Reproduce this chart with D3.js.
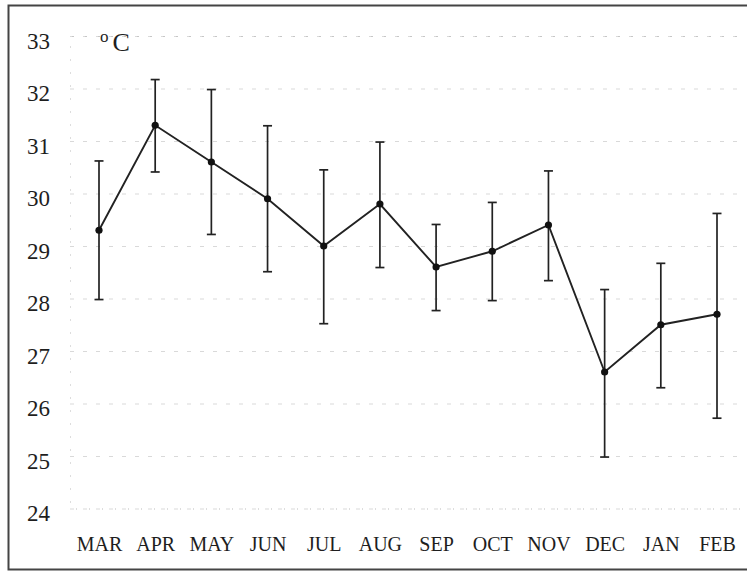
<!DOCTYPE html>
<html>
<head>
<meta charset="utf-8">
<script src="https://cdn.jsdelivr.net/npm/d3@7"></script>
<style>
  body { margin: 0; background: #fff; }
</style>
</head>
<body>
<div id="chart"></div>
<script>
// monthly temperature, mean with error bars
var months = ['MAR', 'APR', 'MAY', 'JUN', 'JUL', 'AUG', 'SEP', 'OCT', 'NOV', 'DEC', 'JAN', 'FEB'];
var meanTemp = [29.3, 31.3, 30.6, 29.9, 29.0, 29.8, 28.6, 28.9, 29.4, 26.6, 27.5, 27.7];
var upperTemp = [30.62, 32.17, 31.98, 31.29, 30.45, 30.98, 29.41, 29.83, 30.43, 28.17, 28.67, 29.62];
var lowerTemp = [27.98, 30.41, 29.22, 28.51, 27.52, 28.59, 27.77, 27.96, 28.34, 24.98, 26.3, 25.72];
var yTicks = [24, 25, 26, 27, 28, 29, 30, 31, 32, 33];

var width = 747,
    height = 571;
var serif = '"Liberation Serif", "Times New Roman", serif';

var svg = d3.select('#chart').append('svg')
    .attr('width', width)
    .attr('height', height)
    .attr('font-family', serif);

var data = months.map(function(m, i) {
    return { month: m, mean: meanTemp[i], hi: upperTemp[i], lo: lowerTemp[i] };
});

var xScale = d3.scalePoint()
    .domain(months)
    .range([99, 717]);

var yScale = d3.scaleLinear()
    .domain([24, 33])
    .range([508.5, 36]);

// frame (no right side, like the scan)
svg.append('path')
    .attr('d', 'M747,5.5 H8.5 V569.5 H747')
    .attr('fill', 'none')
    .attr('stroke', '#444')
    .attr('stroke-width', 2);

// y axis + dotted grid
var yAxis = d3.axisLeft(yScale)
    .tickValues(yTicks)
    .tickSize(-(740 - 70))
    .tickPadding(20)
    .tickFormat(d3.format('d'));

var gy = svg.append('g')
    .attr('transform', 'translate(70,0)')
    .call(yAxis)
    .attr('font-family', serif);

gy.select('.domain')
    .attr('stroke', '#bbb')
    .attr('stroke-width', 1)
    .attr('stroke-dasharray', '1,12');

gy.selectAll('.tick line')
    .attr('stroke', '#aaa')
    .attr('stroke-opacity', 0.45)
    .attr('stroke-dasharray', '4,9');

gy.selectAll('.tick text')
    .attr('font-size', '23px')
    .attr('fill', '#1e1e1e')
    .attr('transform', 'translate(0,5)');

// month labels
var xAxis = d3.axisBottom(xScale)
    .tickSize(0)
    .tickPadding(0);

var gx = svg.append('g')
    .attr('transform', 'translate(0,537)')
    .call(xAxis)
    .attr('font-family', serif);

gx.select('.domain').remove();
gx.selectAll('.tick text')
    .attr('font-size', '20px')
    .attr('fill', '#1e1e1e');

// unit label
var unit = svg.append('text')
    .attr('x', 100)
    .attr('y', 51)
    .attr('font-size', '26px')
    .attr('fill', '#1e1e1e');
unit.append('tspan')
    .attr('font-size', '17px')
    .attr('dy', -9)
    .text('o');
unit.append('tspan')
    .attr('dy', 9)
    .attr('dx', 4)
    .text('C');

// error bars
var bars = svg.selectAll('.errbar')
    .data(data)
    .enter().append('g')
    .attr('class', 'errbar')
    .attr('stroke', '#222')
    .attr('stroke-width', 1.7);

bars.append('line')
    .attr('x1', function(d) { return xScale(d.month); })
    .attr('x2', function(d) { return xScale(d.month); })
    .attr('y1', function(d) { return yScale(d.hi); })
    .attr('y2', function(d) { return yScale(d.lo); });

bars.append('line')
    .attr('x1', function(d) { return xScale(d.month) - 4.5; })
    .attr('x2', function(d) { return xScale(d.month) + 4.5; })
    .attr('y1', function(d) { return yScale(d.hi); })
    .attr('y2', function(d) { return yScale(d.hi); });

bars.append('line')
    .attr('x1', function(d) { return xScale(d.month) - 4.5; })
    .attr('x2', function(d) { return xScale(d.month) + 4.5; })
    .attr('y1', function(d) { return yScale(d.lo); })
    .attr('y2', function(d) { return yScale(d.lo); });

// mean line
var line = d3.line()
    .x(function(d) { return xScale(d.month); })
    .y(function(d) { return yScale(d.mean); });

svg.append('path')
    .datum(data)
    .attr('d', line)
    .attr('fill', 'none')
    .attr('stroke', '#222')
    .attr('stroke-width', 1.9);

svg.selectAll('.dot')
    .data(data)
    .enter().append('circle')
    .attr('class', 'dot')
    .attr('cx', function(d) { return xScale(d.month); })
    .attr('cy', function(d) { return yScale(d.mean); })
    .attr('r', 3.6)
    .attr('fill', '#111');
</script>
</body>
</html>
